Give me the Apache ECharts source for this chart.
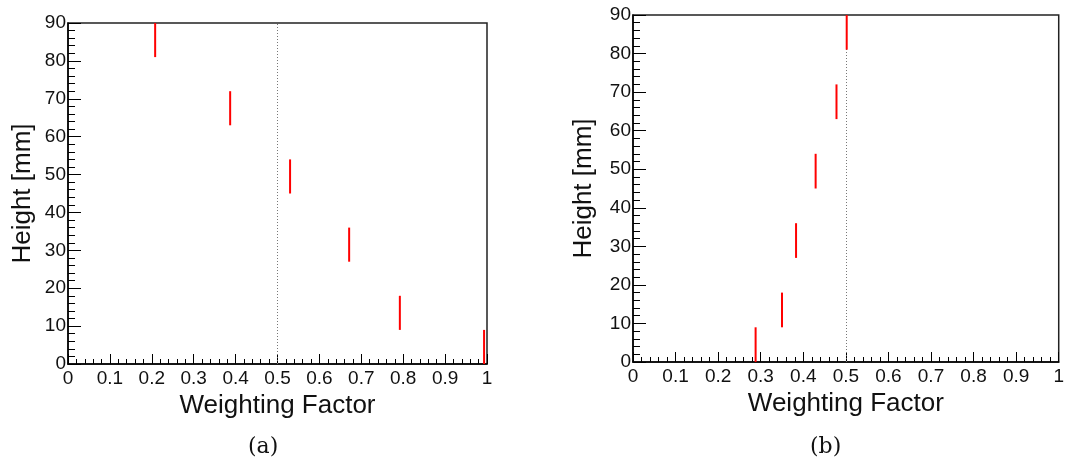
<!DOCTYPE html>
<html>
<head>
<meta charset="utf-8">
<script src="https://cdn.jsdelivr.net/npm/echarts@6/dist/echarts.min.js"></script>
<style>html,body{margin:0;padding:0;background:#fff}#c{width:1067px;height:461px}</style>
</head>
<body>
<div id="c"></div>
<script>
// Panel (a)
const leftX = [0.208, 0.387, 0.530, 0.671, 0.792, 0.993];
const leftLow = [81, 63, 45, 27, 9, 0];
const leftHigh = [90, 72, 54, 36, 18, 9];
// Panel (b)
const rightX = [0.502, 0.478, 0.429, 0.383, 0.350, 0.288];
const rightLow = [81, 63, 45, 27, 9, 0];
const rightHigh = [90, 72, 54, 36, 18, 9];
const refLine = 0.5;
const xTitle = 'Weighting Factor';
const yTitle = 'Height [mm]';
const panelLabels = ['(a)', '(b)'];

const FONT = 'Liberation Sans, Arial, sans-serif';

function segData(xs, lo, hi) { return xs.map((x, i) => [x, lo[i], hi[i]]); }

function xAxisCfg(gi) {
  return {
    gridIndex: gi, type: 'value', min: 0, max: 1, interval: 0.1,
    name: xTitle, nameLocation: 'middle', nameGap: 24,
    nameTextStyle: { fontFamily: FONT, fontSize: 26, color: '#111' },
    axisLine: { show: true, onZero: false, lineStyle: { color: '#000', width: 1.5 } },
    axisTick: { show: true, inside: true, length: 10, lineStyle: { color: '#000', width: 1 } },
    minorTick: { show: true, splitNumber: 5, length: 5, lineStyle: { color: '#000', width: 1 } },
    splitLine: { show: false },
    axisLabel: { fontFamily: FONT, fontSize: 19, color: '#111', margin: 5 }
  };
}
function yAxisCfg(gi, nameGap) {
  return {
    gridIndex: gi, type: 'value', min: 0, max: 90, interval: 10,
    name: yTitle, nameLocation: 'middle', nameGap: nameGap, nameRotate: 90,
    nameTextStyle: { fontFamily: FONT, fontSize: 26, color: '#111' },
    axisLine: { show: true, onZero: false, lineStyle: { color: '#000', width: 1.5 } },
    axisTick: { show: true, inside: true, length: 13, lineStyle: { color: '#000', width: 1 } },
    minorTick: { show: true, splitNumber: 5, length: 7, lineStyle: { color: '#000', width: 1 } },
    splitLine: { show: false },
    axisLabel: { fontFamily: FONT, fontSize: 19, color: '#111', margin: 2 }
  };
}
function segSeries(gi, data) {
  return {
    type: 'custom', xAxisIndex: gi, yAxisIndex: gi, data: data,
    renderItem: function (params, api) {
      const p0 = api.coord([api.value(0), api.value(1)]);
      const p1 = api.coord([api.value(0), api.value(2)]);
      return { type: 'line', shape: { x1: p0[0], y1: p0[1], x2: p1[0], y2: p1[1] },
               style: { stroke: '#ff0000', lineWidth: 2 } };
    },
    markLine: {
      silent: true, symbol: 'none', label: { show: false },
      lineStyle: { type: [1, 2], color: '#777', width: 1 },
      data: [{ xAxis: refLine }]
    },
    z: 5
  };
}

const chart = echarts.init(document.getElementById('c'), null, { renderer: 'canvas' });
chart.setOption({
  animation: false,
  backgroundColor: '#fff',
  grid: [
    { left: 68, right: 580, top: 23, bottom: 97, show: true, borderColor: '#222', borderWidth: 1.5, containLabel: false },
    { left: 633, right: 8, top: 15, bottom: 99, show: true, borderColor: '#222', borderWidth: 1.5, containLabel: false }
  ],
  xAxis: [xAxisCfg(0), xAxisCfg(1)],
  yAxis: [yAxisCfg(0, 32), yAxisCfg(1, 36)],
  series: [
    segSeries(0, segData(leftX, leftLow, leftHigh)),
    segSeries(1, segData(rightX, rightLow, rightHigh))
  ],
  graphic: [
    { type: 'text', left: 248, top: 436, style: { text: panelLabels[0], font: '22px "DejaVu Serif", "Liberation Serif", serif', fill: '#111' } },
    { type: 'text', left: 810, top: 436, style: { text: panelLabels[1], font: '22px "DejaVu Serif", "Liberation Serif", serif', fill: '#111' } }
  ]
});
</script>
</body>
</html>
